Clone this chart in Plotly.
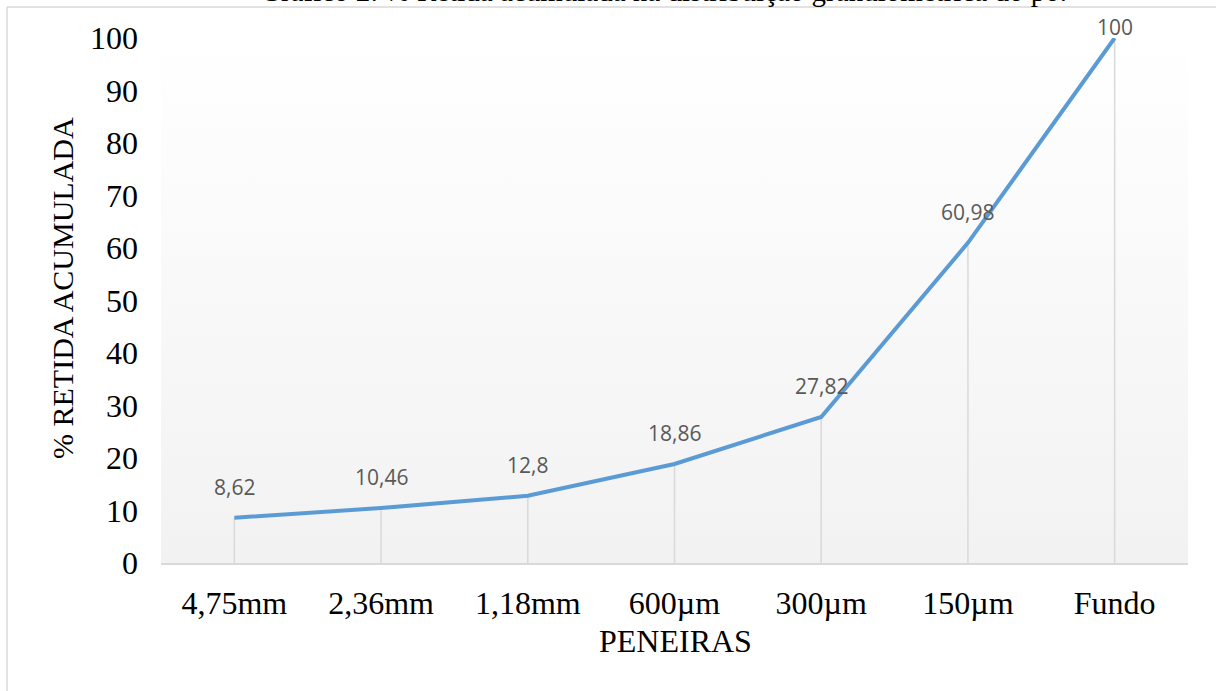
import base64
import plotly.graph_objects as go

# Sieve openings and cumulative retained percentage
peneiras = ["4,75mm", "2,36mm", "1,18mm", "600µm", "300µm", "150µm", "Fundo"]
retida_acumulada = [8.62, 10.46, 12.8, 18.86, 27.82, 60.98, 100]
y_ticks = [0, 10, 20, 30, 40, 50, 60, 70, 80, 90, 100]

titulo = "Gráfico 2: % Retida acumulada na distribuição granulométrica do pó."
titulo_y = "% RETIDA ACUMULADA"
titulo_x = "PENEIRAS"

# Layout geometry (pixels)
W_FIG, H_FIG = 1216, 691
M_L, M_R, M_T, M_B = 161, 28, 38, 128
PLOT_W = W_FIG - M_L - M_R
PLOT_H = H_FIG - M_T - M_B

SERIF = "Liberation Serif, Times New Roman, serif"
SANS = "Open Sans, Liberation Sans, sans-serif"
LINE_BLUE = "#5b9bd5"
GRID_GREY = "#d9d9d9"


def px_x(p):
    return (p - M_L) / PLOT_W


def px_y(p):
    return (H_FIG - M_B - p) / PLOT_H


def fmt(v):
    return f"{v:g}".replace(".", ",")


# Vertical gradient for the plot area
svg = (
    '<svg xmlns="http://www.w3.org/2000/svg" width="10" height="100" '
    'viewBox="0 0 10 100" preserveAspectRatio="none">'
    '<defs><linearGradient id="g" x1="0" y1="0" x2="0" y2="1">'
    '<stop offset="0" stop-color="#ffffff"/>'
    '<stop offset="1" stop-color="#f2f2f2"/>'
    '</linearGradient></defs>'
    '<rect x="0" y="0" width="10" height="100" fill="url(#g)"/></svg>'
)
grad_src = "data:image/svg+xml;base64," + base64.b64encode(svg.encode()).decode()

# Drop lines from each point down to the category axis
drop_x, drop_y = [], []
for c, v in zip(peneiras, retida_acumulada):
    drop_x += [c, c, None]
    drop_y += [0, v, None]

fig = go.Figure()
fig.add_trace(go.Scatter(
    x=drop_x, y=drop_y, mode="lines",
    line=dict(color=GRID_GREY, width=1.5),
    hoverinfo="skip", showlegend=False,
))
fig.add_trace(go.Scatter(
    x=peneiras, y=retida_acumulada, mode="lines",
    line=dict(color=LINE_BLUE, width=4),
    showlegend=False, cliponaxis=False,
))

annotations = []
# Data labels above each point, pushed down when they would leave the chart
for c, v in zip(peneiras, retida_acumulada):
    point_px = M_T + (100 - v) / 100 * PLOT_H
    shift = min(31, point_px - 27)
    annotations.append(dict(
        x=c, y=v, xref="x", yref="y", text=fmt(v), showarrow=False,
        yshift=shift, font=dict(family=SANS, size=21, color="#595959"),
    ))

annotations += [
    dict(x=px_x(62), y=px_y(288), xref="paper", yref="paper", text=titulo_y,
         textangle=-90, showarrow=False, xanchor="center", yanchor="middle",
         font=dict(family=SERIF, size=30, color="black")),
    dict(x=px_x(675), y=px_y(641), xref="paper", yref="paper", text=titulo_x,
         showarrow=False, xanchor="center", yanchor="middle",
         font=dict(family=SERIF, size=32, color="black")),
    dict(x=px_x(663), y=px_y(-9.5), xref="paper", yref="paper", text=titulo,
         showarrow=False, xanchor="center", yanchor="middle",
         font=dict(family=SERIF, size=29, color="black")),
]

shapes = [
    # outer chart frame (left and top edges)
    dict(type="line", xref="paper", yref="paper",
         x0=px_x(7), x1=px_x(7), y0=px_y(7), y1=px_y(H_FIG + 20),
         line=dict(color=GRID_GREY, width=1.5)),
    dict(type="line", xref="paper", yref="paper",
         x0=px_x(7), x1=px_x(W_FIG + 20), y0=px_y(7), y1=px_y(7),
         line=dict(color=GRID_GREY, width=1.5)),
]

fig.update_layout(
    width=W_FIG, height=H_FIG,
    margin=dict(l=M_L, r=M_R, t=M_T, b=M_B, pad=0),
    paper_bgcolor="white", plot_bgcolor="white",
    showlegend=False,
    annotations=annotations,
    shapes=shapes,
    images=[dict(source=grad_src, xref="paper", yref="paper",
                 x=0, y=1, sizex=1, sizey=1, xanchor="left", yanchor="top",
                 sizing="stretch", layer="below")],
    xaxis=dict(
        type="category", categoryorder="array", categoryarray=peneiras,
        range=[-0.5, len(peneiras) - 0.5],
        showline=True, linecolor=GRID_GREY, linewidth=1.5,
        showgrid=False, zeroline=False, ticks="",
        tickfont=dict(family=SERIF, size=32, color="black"),
        ticklabelstandoff=11,
    ),
    yaxis=dict(
        range=[0, 100], tickmode="array", tickvals=y_ticks,
        ticktext=[str(t) for t in y_ticks],
        showline=False, showgrid=False, zeroline=False, ticks="",
        tickfont=dict(family=SERIF, size=32, color="black"),
        ticklabelstandoff=22,
    ),
)

fig.write_html("out.html")
